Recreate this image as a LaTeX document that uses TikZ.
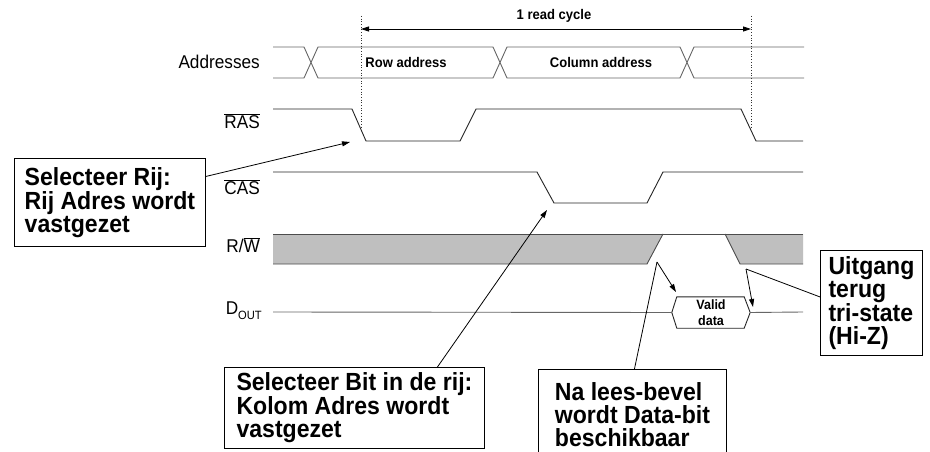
\documentclass[tikz,border=0pt]{standalone}
\usepackage{fontspec}
\setmainfont{Liberation Sans}[FakeStretch=0.93]
\usetikzlibrary{arrows.meta,calc}
\begin{document}
\begin{tikzpicture}[x=1pt,y=-1pt,
  sig/.style={draw=black!85, line width=0.9pt},
  bus/.style={draw=black!60, line width=0.9pt},
  lbl/.style={anchor=east, inner sep=0pt, font=\fontsize{18.5}{20}\selectfont},
  small/.style={inner sep=0pt, font=\bfseries\fontsize{14}{16}\selectfont},
  note/.style={draw=black, line width=0.9pt, anchor=north west, align=left,
    inner sep=0pt, font=\bfseries\fontsize{24.8}{23}\selectfont},
  tip/.style={-{Triangle[length=8pt,width=5pt]}, line width=0.8pt},
  dim/.style={{Triangle[length=8pt,width=5pt]}-{Triangle[length=8pt,width=5pt]}, line width=0.8pt},
  guide/.style={dotted, line width=0.7pt, black!80},
]
\useasboundingbox (0,0) rectangle (930,452);
\clip (0,0) rectangle (930,452);
\fill[white] (0,0) rectangle (930,452);

% signal labels
\node[lbl] (addr) at (260,61.5) {Addresses};
\node[lbl] (ras) at (260,121) {$\overline{\hbox{RAS}}$};
\node[lbl] (cas) at (260,187.5) {$\overline{\hbox{CAS}}$};
\node[lbl] (rw) at (260,245.5) {R/$\overline{\hbox{W}}$};
\node[lbl] (dout) at (262,310.5) {D\raisebox{-5pt}{\fontsize{12}{12}\selectfont OUT}};

% address bus
\draw[bus] (273,47) -- (304,47) -- (318,78) -- (493,78) -- (507,47) -- (680,47) -- (694,78) -- (804,78);
\draw[bus] (273,78) -- (304,78) -- (318,47) -- (493,47) -- (507,78) -- (680,78) -- (694,47) -- (804,47);
\node[small] (row) at (406,62) {Row address};
\node[small] (col) at (601,62) {Column address};

% read cycle
\coordinate (c1) at (361,29);
\coordinate (c2) at (751,29);
\draw[guide] (361,16) -- (361,129);
\draw[guide] (751,16) -- (751,128);
\draw[dim] (c1) -- (c2);
\node[small, anchor=base] (cyc) at (554,20) {1 read cycle};

% RAS
\draw[sig] (273,109) -- (352,109) -- (366,141) -- (460,141) -- (476,109) -- (741,109) -- (756,141) -- (803,141);

% CAS
\draw[sig] (273,172) -- (537,172) -- (554,203) -- (647,203) -- (663,172) -- (803,172);

% R/W
\fill[black!25] (273,234) -- (663,234) -- (647,264) -- (273,264) -- cycle;
\fill[black!25] (725,234) -- (803,234) -- (803,264) -- (740,264) -- cycle;
\draw[sig, draw=black!70] (273,234) -- (803,234);
\draw[sig, draw=black!70] (273,264) -- (647,264) -- (663,234);
\draw[sig, draw=black!70] (725,234) -- (740,264) -- (803,264);

% Dout
\node[small, align=center, font=\bfseries\fontsize{13.5}{16}\selectfont, minimum width=78pt, minimum height=31pt] (vd) at (711,312.5) {Valid\\data};
\draw[sig] (vd.west) -- ([xshift=5pt]vd.north west) -- ([xshift=-6pt]vd.north east) -- (vd.east) -- ([xshift=-6pt]vd.south east) -- ([xshift=5pt]vd.south west) -- cycle;
\coordinate (d0) at (273,312);
\coordinate (d1) at (803,312);
\draw[bus] (d0) -- (vd.west);
\draw[bus] (vd.east) -- (d1);

% notes
\node[note, minimum width=191pt, minimum height=88pt] (rij) at (14,158) {Selecteer Rij:\\Rij Adres wordt\\vastgezet};
\node[note, minimum width=260pt, minimum height=81pt] (bit) at (224,367) {Selecteer Bit in de rij:\\Kolom Adres wordt\\vastgezet};
\node[note, minimum width=188pt, minimum height=90pt] (nalees) at (538,369) {Na lees-bevel\\wordt Data-bit\\beschikbaar};
\node[note, minimum width=102pt, minimum height=105pt] (uit) at (820,250) {Uitgang\\terug\\tri-state\\(Hi-Z)};

% connectors
\coordinate (rasTip) at (350,142);
\coordinate (casTip) at (547,210);
\coordinate (rwA) at (657,262);
\coordinate (vdA) at (676,292);
\coordinate (rwB) at (746,269);
\coordinate (vdB) at (753,307);
\draw[tip] ([yshift=26pt]rij.east) -- (rasTip);
\draw[tip] ([xshift=83pt]bit.north) -- (casTip);
\draw[line width=0.8pt] ([xshift=2pt]nalees.north) -- (rwA);
\draw[tip] (rwA) -- (vdA);
\draw[line width=0.8pt] ([yshift=6pt]uit.west) -- (rwB);
\draw[tip] (rwB) -- (vdB);
\end{tikzpicture}
\end{document}
